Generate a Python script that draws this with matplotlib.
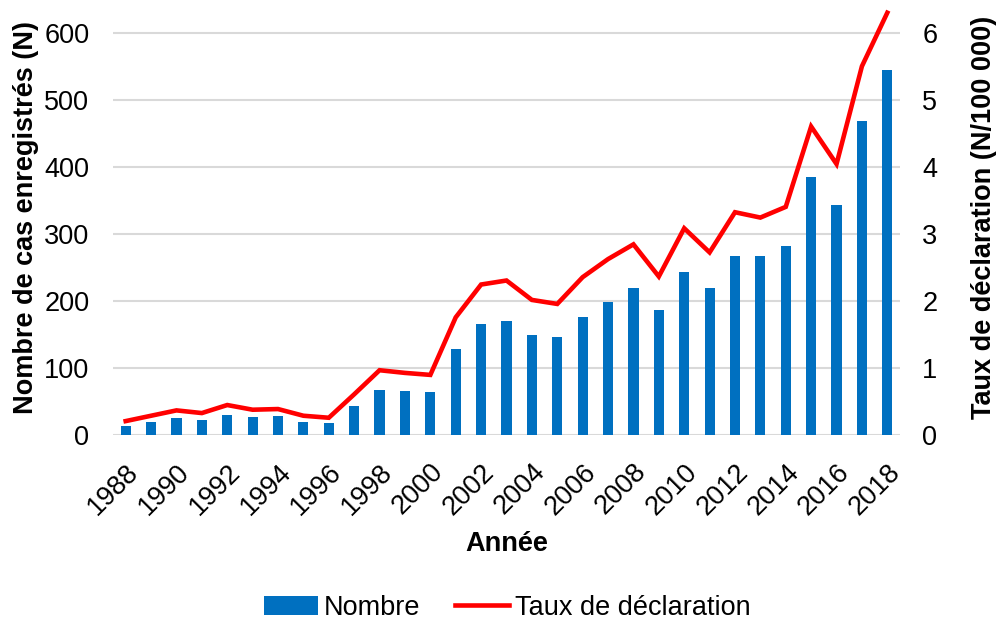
import matplotlib
matplotlib.use("Agg")
import matplotlib.pyplot as plt
import numpy as np

years = list(range(1988, 2019))
nombre = [14, 19, 25, 23, 30, 27, 28, 20, 18, 43, 68, 66, 65, 128, 166, 171, 150, 147,
          177, 199, 220, 187, 244, 220, 268, 267, 282, 385, 344, 470, 546]
taux = [0.21, 0.29, 0.37, 0.33, 0.45, 0.38, 0.39, 0.29, 0.26, 0.61, 0.97, 0.93, 0.90,
        1.76, 2.25, 2.31, 2.02, 1.96, 2.36, 2.63, 2.85, 2.37, 3.09, 2.73, 3.33, 3.25,
        3.41, 4.61, 4.05, 5.51, 6.31]
left_ticks = [0, 100, 200, 300, 400, 500, 600]
right_ticks = [0, 1, 2, 3, 4, 5, 6]

plt.rcParams['font.family'] = ['Liberation Sans', 'DejaVu Sans']
FS = 19.5

fig = plt.figure(figsize=(10, 6.19), dpi=100)
ax = fig.add_axes([0.113, 0.297, 0.787, 0.703])
ax2 = ax.twinx()

x = np.arange(len(years))
bars = ax.bar(x, nombre, width=0.4, color='#0070C0', zorder=3, label='Nombre')
line, = ax2.plot(x, taux, color='#FF0000', lw=3.3, zorder=4, label='Taux de déclaration',
                 solid_joinstyle='miter')

ax.set_xlim(-0.5, len(years) - 0.5)
ax.set_ylim(0, 650)
ax2.set_ylim(0, 6.5)
ax.set_yticks(left_ticks)
ax2.set_yticks(right_ticks)
ax.grid(axis='y', color='#D9D9D9', lw=1.5, zorder=0)
ax.set_axisbelow(True)

for a in (ax, ax2):
    for s in a.spines.values():
        s.set_visible(False)
    a.tick_params(length=0, labelsize=FS)
ax.tick_params(axis='y', pad=17)
ax2.tick_params(axis='y', pad=16)

ax.set_xticks(x[::2])
ax.set_xticklabels([str(y) for y in years[::2]], rotation=45, ha='right', va='top',
                   rotation_mode='anchor', fontsize=FS)
ax.tick_params(axis='x', pad=17)

ax.set_ylabel('Nombre de cas enregistrés (N)', fontsize=FS, fontweight='bold', labelpad=4)
ax2.set_ylabel('Taux de déclaration (N/100 000)', fontsize=FS, fontweight='bold', labelpad=24)
ax.set_xlabel('Année', fontsize=FS, fontweight='bold', labelpad=8)

fig.legend(handles=[bars, line], loc='center', bbox_to_anchor=(0.507, 0.018),
           ncol=2, frameon=False, fontsize=FS, handlelength=2.0, columnspacing=1.3,
           handletextpad=0.2)

fig.savefig('out.png', dpi=100)
